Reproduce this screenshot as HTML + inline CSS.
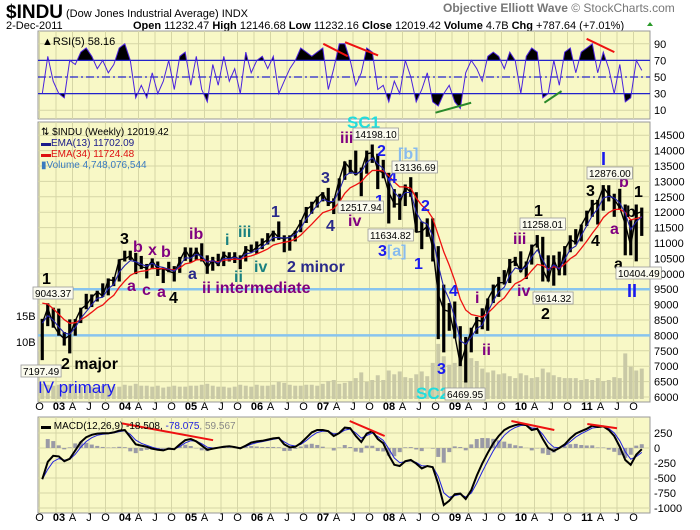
<!DOCTYPE html>
<html><head><meta charset="utf-8">
<style>
html,body{margin:0;padding:0;background:#fff;}
svg{display:block;font-family:"Liberation Sans",sans-serif;}
.ax{font-size:11px;fill:#000;}
.lbl{font-weight:bold;font-size:16px;}
.box{font-size:10px;fill:#000;}
</style></head>
<body>
<svg id="chart" width="700" height="530" viewBox="0 0 700 530" xmlns="http://www.w3.org/2000/svg">
<rect width="700" height="530" fill="#fff"/>
<text x="6" y="18" font-size="19" font-weight="bold">$INDU</text>
<text x="66" y="17" font-size="11">(Dow Jones Industrial Average) INDX</text>
<text x="6" y="29" font-size="11">2-Dec-2011</text>
<text x="133" y="29" font-size="11"><tspan font-weight="bold">Open</tspan> 11232.47 <tspan font-weight="bold">High</tspan> 12146.68 <tspan font-weight="bold">Low</tspan> 11232.16 <tspan font-weight="bold">Close</tspan> 12019.42 <tspan font-weight="bold">Volume</tspan> 4.7B <tspan font-weight="bold">Chg</tspan> +787.64 (+7.01%)</text>
<polygon points="647,26 653,26 650,22" fill="#2a9a2a"/>
<text x="443" y="12" font-size="12" fill="#777"><tspan font-weight="bold">Objective Elliott Wave</tspan> © StockCharts.com</text>

<g id="rsiPanel"></g>
<g id="mainPanel"></g>
<g id="macdPanel"></g>
<g id="xAxes"></g>

<g class="lbl">
<text x="42" y="284" fill="#000">1</text>
<text x="61" y="369" fill="#000">2 major</text>
<text x="38" y="393" fill="#1a1aee" font-size="17" font-weight="normal">IV primary</text>
<text x="120" y="244" fill="#000">3</text>
<text x="133" y="252" fill="#800080">b</text>
<text x="148" y="255" fill="#800080">x</text>
<text x="161" y="257" fill="#800080">b</text>
<text x="127" y="291" fill="#800080">a</text>
<text x="142" y="295" fill="#800080">c</text>
<text x="157" y="297" fill="#800080">a</text>
<text x="169" y="303" fill="#000">4</text>
<text x="189" y="239" fill="#800080">ib</text>
<text x="188" y="279" fill="#2a2a8a">a</text>
<text x="225" y="245" fill="#1a8080">i</text>
<text x="238" y="237" fill="#1a8080">iii</text>
<text x="234" y="282" fill="#1a8080">ii</text>
<text x="254" y="272" fill="#1a8080">iv</text>
<text x="202" y="293" fill="#800080">ii intermediate</text>
<text x="271" y="217" fill="#2a2a8a">1</text>
<text x="287" y="272" fill="#2a2a8a">2 minor</text>
<text x="321" y="183" fill="#2a2a8a">3</text>
<text x="326" y="231" fill="#2a2a8a">4</text>
<text x="340" y="143" fill="#800080">iii</text>
<text x="347" y="128" fill="#22dddd" font-size="17">SC1</text>
<text x="377" y="156" fill="#1a1aee">2</text>
<text x="398" y="159" fill="#88bbee">[b]</text>
<text x="388" y="183" fill="#1a1aee">4</text>
<text x="375" y="206" fill="#1a1aee">1</text>
<text x="348" y="226" fill="#800080">iv</text>
<text x="378" y="256" fill="#1a1aee">3<tspan fill="#88bbee">[a]</tspan></text>
<text x="414" y="269" fill="#1a1aee">1</text>
<text x="421" y="211" fill="#1a1aee">2</text>
<text x="449" y="296" fill="#1a1aee">4</text>
<text x="437" y="374" fill="#1a1aee">3</text>
<text x="416" y="399" fill="#22dddd" font-size="17">SC2</text>
<text x="475" y="303" fill="#800080">i</text>
<text x="482" y="355" fill="#800080">ii</text>
<text x="513" y="244" fill="#800080">iii</text>
<text x="517" y="296" fill="#800080">iv</text>
<text x="534" y="216" fill="#000">1</text>
<text x="541" y="319" fill="#000">2</text>
<text x="601" y="165" fill="#1a1aee" font-size="18">I</text>
<text x="586" y="196" fill="#000">3</text>
<text x="619" y="187" fill="#800080">b</text>
<text x="634" y="197" fill="#000">1</text>
<text x="626" y="217" fill="#000">b</text>
<text x="610" y="234" fill="#800080">a</text>
<text x="591" y="246" fill="#000">4</text>
<text x="614" y="269" fill="#000">a</text>
<text x="627" y="297" fill="#1a1aee" font-size="18">II</text>
</g>
<g id="boxes"></g>

<script>
const startYear = 2002.75;
const high = [8538,9043,8900, 8870,8110,8520,8530,8900,9350,9330,9450,9690,9850,9900,10470,
 10750,10750,10680,10580,10320,10500,10400,10200,10390,10250,10550,10860,
 10850,10850,10990,10600,10550,10650,10720,10700,10700,10600,10900,10950,
 11050,11150,11320,11400,11700,11250,11250,11400,11750,12170,12340,12510,
 12650,12790,12450,13100,13650,13700,14000,13450,14000,14198,13900,13700,
 13280,12750,12600,12900,13137,12650,11700,11800,11800,10900,9650,9050,
 9100,8300,7950,8250,8600,8880,9200,9650,9900,10120,10480,10550,
 10730,10400,10950,11258,11200,10600,10600,10720,10900,11250,11450,11600,
 12050,12400,12400,12880,12876,12600,12760,12250,11750,12250,12150];
const low = [7197,8300,8250, 7990,7670,7416,7990,8400,8850,8920,9100,9250,9300,9600,9750,
 10400,10450,9990,10150,9850,10150,9930,9700,10050,9750,10030,10420,
 10370,10450,10400,10000,10100,10250,10250,10400,10350,10150,10400,10700,
 10650,10800,10950,11050,11100,10700,10750,11050,11350,11650,11950,12150,
 12350,12200,11940,12350,13050,13250,13200,12520,13250,13600,12750,13100,
 11634,12150,11750,12200,12500,11350,10800,11200,10400,7880,7450,8150,
 7900,7000,6470,7450,8050,8200,8150,9050,9250,9650,9700,10250,
 10050,9830,10300,10850,9750,9750,9614,9950,9950,10700,10950,11050,
 11550,11850,11600,12050,12350,11850,12100,10600,10600,10404,11230];
const close = [8397,8896,8342, 8054,7891,7992,8480,8850,8985,9233,9415,9275,9801,9782,10454,
 10488,10584,10358,10226,10188,10435,10140,10174,10080,10027,10428,10783,
 10490,10766,10504,10193,10467,10275,10641,10482,10569,10440,10806,10718,
 10865,10993,11109,11367,11168,11150,11186,11381,11679,12081,12221,12463,
 12622,12269,12354,13063,13628,13409,13212,13358,13896,13930,13372,13265,
 12650,12266,12263,12820,12638,11350,11378,11544,10851,9325,8829,8776,
 8001,7063,7609,8168,8500,8447,9172,9496,9712,9713,10344,10428,
 10067,10325,10857,11009,10137,9774,10466,10015,10788,11118,11006,11578,
 11892,12226,12320,12811,12570,12414,12143,11614,10913,11955,12019];
const volume = [1.6,1.5,1.4, 1.5,1.4,1.6,1.4,1.3,1.4,1.3,1.2,1.4,1.4,1.3,1.3,
 1.5,1.4,1.6,1.4,1.4,1.3,1.4,1.2,1.3,1.4,1.3,1.3,
 1.4,1.4,1.5,1.6,1.4,1.3,1.3,1.2,1.3,1.5,1.4,1.3,
 1.5,1.4,1.4,1.5,1.8,1.7,1.5,1.4,1.4,1.5,1.5,1.4,
 1.6,1.9,2.0,1.6,1.7,1.9,2.2,2.8,1.8,2.0,2.5,2.0,
 3.0,2.6,2.9,2.3,2.2,2.6,2.9,2.4,3.8,5.8,4.5,3.6,
 3.8,4.5,5.0,4.3,4.0,3.2,2.8,3.0,2.6,2.7,2.4,2.2,
 2.7,2.5,2.2,2.3,3.2,2.8,2.5,2.3,2.2,2.2,2.2,2.0,
 2.1,2.0,2.2,1.9,2.0,2.3,2.2,4.8,3.4,3.0,3.2];
const rsi = [30,75,45, 30,25,70,65,80,85,75,60,70,55,65,85,
 90,70,25,40,25,55,30,45,70,35,75,80,
 40,75,35,20,65,40,75,45,60,30,80,55,
 70,75,60,75,30,45,60,70,85,80,75,80,
 85,35,60,90,90,70,40,55,85,80,35,40,
 20,45,30,70,50,20,35,55,20,15,30,40,
 20,12,55,70,60,45,75,80,75,60,80,70,
 30,75,85,80,25,30,70,40,80,85,55,80,
 85,90,55,80,60,30,65,20,25,70,58];
const macd = [-520,-230,-130, -140,-220,-180,-40,100,180,220,240,245,245,260,290,
 300,180,60,40,20,-10,-30,-40,-10,-20,60,130,
 150,110,40,-30,-10,5,20,30,15,-5,40,90,
 110,120,140,160,170,60,10,20,80,170,260,300,
 300,280,200,250,340,330,200,100,240,280,150,80,
 -120,-280,-300,-220,-200,-260,-340,-300,-320,-600,-950,-880,
 -770,-760,-850,-700,-460,-260,-80,80,200,300,350,380,
 400,380,300,320,150,0,-50,0,60,160,240,280,
 320,370,350,360,300,200,20,-200,-280,-110,-20];
const yearTicks = [2003,2004,2005,2006,2007,2008,2009,2010,2011];
const priceTicks = [6000,6500,7000,7500,8000,8500,9000,9500,10000,10500,11000,11500,12000,12500,13000,13500,14000,14500];
const rsiTicks = [90,70,50,30,10];
const macdTicks = [250,0,-250,-500,-750,-1000];
const supportLevels = [9500,8000];
const rsiRedLines = [[2007.05,90,2007.42,75],[2007.38,92,2007.88,76],[2011.04,96,2011.46,80]];
const rsiGreenLines = [[2008.75,7,2009.29,19],[2010.4,19,2010.66,33]];
const macdRedLines = [[2004.0,410,2005.38,130],[2007.45,450,2007.98,200],[2009.9,450,2010.55,300],[2011.05,400,2011.5,330]];

const L = 38, R = 650;
const X = t => 56 + (t - 2003) * 66;
const tOf = i => startYear + (i + 0.5) / 12;
const P = p => 397 - (p - 6000) * 0.0308;
const RS = v => 77 - (v - 50) * 0.83;
const M = v => 448 - v * 0.06;
const V = v => 399 - v * 9.5;
const NS = "http://www.w3.org/2000/svg";
function mk(parent, tag, attrs, txt) {
  const e = document.createElementNS(NS, tag);
  for (const k in attrs) e.setAttribute(k, attrs[k]);
  if (txt !== undefined) e.textContent = txt;
  parent.appendChild(e);
  return e;
}
const BG = "#f8f8c6", GRID = "#d6d6a6";

function panel(g, top, bot, name) {
  const r = mk(g, "rect", {x: L, y: top, width: R - L, height: bot - top, fill: BG, stroke: "#999", "stroke-width": 1});
  
  
  for (let q = 2002.75; q <= 2011.8; q += 0.25) {
    const x = X(q);
    if (x < L || x > R) continue;
    const ln = mk(g, "line", {x1: x, x2: x, y1: top, y2: bot, stroke: GRID, "stroke-width": 1});
    
    
  }
}

const rg = document.getElementById("rsiPanel");
panel(rg, 31, 119, "rsi");
rsiTicks.forEach(v => {
  const ln = mk(rg, "line", {x1: L, x2: R, y1: RS(v), y2: RS(v), stroke: GRID});
  
  
  const t = mk(rg, "text", {x: 654, y: RS(v) + 4, class: "ax"}, String(v));
  
  
});
const defs = mk(document.getElementById("chart"), "defs", {});
const c1 = mk(defs, "clipPath", {id: "clipHi"}); mk(c1, "rect", {x: L, y: 0, width: R - L, height: RS(70)});
const c2 = mk(defs, "clipPath", {id: "clipLo"}); mk(c2, "rect", {x: L, y: RS(30), width: R - L, height: 119 - RS(30)});
const rsiPts = rsi.map((v, i) => [X(tOf(i)), RS(v)]);
const ptsStr = rsiPts.map(p => p[0].toFixed(1) + "," + p[1].toFixed(1)).join(" ");
const first = rsiPts[0][0], last = rsiPts[rsiPts.length - 1][0];
const hiFill = mk(rg, "polygon", {points: first + "," + RS(70) + " " + ptsStr + " " + last + "," + RS(70), fill: "#000", "clip-path": "url(#clipHi)"});


const loFill = mk(rg, "polygon", {points: first + "," + RS(30) + " " + ptsStr + " " + last + "," + RS(30), fill: "#000", "clip-path": "url(#clipLo)"});


[[70, ""], [30, ""], [50, "8,3,2,3"]].forEach(([v, d]) => {
  const ln = mk(rg, "line", {x1: L, x2: R, y1: RS(v), y2: RS(v), stroke: "#2222cc", "stroke-width": 1.3, "stroke-dasharray": d});
  
  
});
const rsiLine = mk(rg, "polyline", {points: ptsStr, fill: "none", stroke: "#4a22dd", "stroke-width": 1});


rsiRedLines.concat(rsiGreenLines).forEach((s, k) => {
  const ln = mk(rg, "line", {x1: X(s[0]), y1: RS(s[1]), x2: X(s[2]), y2: RS(s[3]), stroke: k < rsiRedLines.length ? "#ee1111" : "#2a8a2a", "stroke-width": 2});
  
  
});
const rsiTitle = mk(rg, "text", {x: 42, y: 45, "font-size": 11}, "▲RSI(5) 58.16");



const mg = document.getElementById("mainPanel");
panel(mg, 122, 402, "price");
priceTicks.forEach(p => {
  const ln = mk(mg, "line", {x1: L, x2: R, y1: P(p), y2: P(p), stroke: GRID});
  
  
  const t = mk(mg, "text", {x: 654, y: P(p) + 4, class: "ax", "font-size": 12}, String(p));
  
  
});
[["15B", 320], ["10B", 346]].forEach(([s, y]) => {
  const t = mk(mg, "text", {x: 16, y: y, class: "ax"}, s);
  
  
});
volume.forEach((v, i) => {
  const x = X(tOf(i));
  const b = mk(mg, "rect", {x: x - 2, y: V(v), width: 4, height: 399 - V(v), fill: "#c9c9a6"});
  
  
});
supportLevels.forEach(p => {
  const ln = mk(mg, "line", {x1: L, x2: R, y1: P(p), y2: P(p), stroke: "#88c4ee", "stroke-width": 2.5});
  
  
});
function ema(arr, n) { const a = 2 / (n + 1); let e = arr[0]; return arr.map(v => (e = e + a * (v - e))); }
const ema13 = ema(close, 3), ema34 = ema(close.map((c, i) => i === 0 ? 9050 : c), 8);
const pl = arr => arr.map((v, i) => X(tOf(i)).toFixed(1) + "," + P(v).toFixed(1)).join(" ");
high.forEach((h, i) => {
  const x = X(tOf(i));
  const b = mk(mg, "line", {x1: x, x2: x, y1: P(h), y2: P(low[i]), stroke: "#000", "stroke-width": 3.2});
  
  
});
const closeLine = mk(mg, "polyline", {points: pl(close), fill: "none", stroke: "#000", "stroke-width": 1.4});


const e34 = mk(mg, "polyline", {points: pl(ema34), fill: "none", stroke: "#ee1111", "stroke-width": 1.3});


const e13 = mk(mg, "polyline", {points: pl(ema13), fill: "none", stroke: "#2222aa", "stroke-width": 1.1});


[["⇅ $INDU (Weekly) 12019.42", "#000", 135], ["▬EMA(13) 11702.09", "#1a1a8a", 146], ["▬EMA(34) 11724.48", "#dd1111", 157], ["▮Volume 4,748,076,544", "#3a7abf", 168]].forEach(([s, c, y]) => {
  const t = mk(mg, "text", {x: 41, y: y, "font-size": 10, fill: c}, s);
  
  
});

const bg = document.getElementById("boxes");
[["9043.37", 33, 293], ["7197.49", 21, 371], ["14198.10", 353, 134], ["13136.69", 392, 167], ["12517.94", 338, 207], ["11634.82", 368, 235], ["6469.95", 445, 394], ["11258.01", 520, 224], ["9614.32", 533, 298], ["12876.00", 587, 173], ["10404.49", 616, 273]].forEach(([s, x, y]) => {
  const w = s.length * 5.3 + 3;
  const r = mk(bg, "rect", {x: x, y: y - 6, width: w, height: 12, fill: "#fbfbee", stroke: "#999", "stroke-width": 0.8});
  
  
  const t = mk(bg, "text", {x: x + 2, y: y + 4, class: "box"}, s);
  
  
});

const cg = document.getElementById("macdPanel");
panel(cg, 417, 513, "macd");
macdTicks.forEach(v => {
  const ln = mk(cg, "line", {x1: L, x2: R, y1: M(v), y2: M(v), stroke: GRID});
  
  
  const t = mk(cg, "text", {x: 654, y: M(v) + 4, class: "ax"}, String(v));
  
  
});
const signal = ema(macd, 2.5);
macd.forEach((v, i) => {
  const h = (v - signal[i]) * 1.2;
  const x = X(tOf(i));
  const b = mk(cg, "rect", {x: x - 2, y: Math.min(M(h), M(0)), width: 4, height: Math.abs(M(h) - M(0)), fill: "#9a9aa6"});
  
  
});
const mpl = arr => arr.map((v, i) => X(tOf(i)).toFixed(1) + "," + M(v).toFixed(1)).join(" ");
const sl = mk(cg, "polyline", {points: mpl(signal), fill: "none", stroke: "#2222dd", "stroke-width": 1});


const ml = mk(cg, "polyline", {points: mpl(macd), fill: "none", stroke: "#000", "stroke-width": 2});


macdRedLines.forEach(s => {
  const ln = mk(cg, "line", {x1: X(s[0]), y1: M(s[1]), x2: X(s[2]), y2: M(s[3]), stroke: "#ee1111", "stroke-width": 2});
  
  
});
const mt = mk(cg, "text", {x: 41, y: 429, "font-size": 10});


mk(mt, "tspan", {}, "▬ MACD(12,26,9) -18.508, ");
mk(mt, "tspan", {fill: "#2222dd"}, "-78.075");
mk(mt, "tspan", {fill: "#888"}, ", 59.567");

const xg = document.getElementById("xAxes");
[410, 521].forEach(y => {
  const o = mk(xg, "text", {x: X(2002.75), y: y, class: "ax", "text-anchor": "middle", "font-size": 10}, "O");
  
  
  yearTicks.forEach(yr => {
    const t = mk(xg, "text", {x: X(yr) + 3, y: y, class: "ax", "text-anchor": "middle", "font-weight": "bold", "font-size": 11}, String(yr % 100).padStart(2, "0"));
    
    
    ["A", "J", "O"].forEach((m, k) => {
      const tm = mk(xg, "text", {x: X(yr + 0.25 * (k + 1)), y: y, class: "ax", "text-anchor": "middle", "font-size": 10}, m);
      
      
    });
  });
});
</script>
</body></html>
